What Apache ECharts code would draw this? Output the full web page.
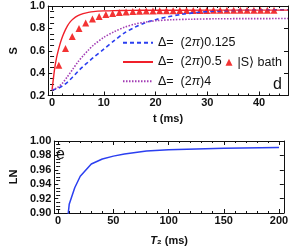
<!DOCTYPE html>
<html><head><meta charset="utf-8">
<script src="https://cdn.jsdelivr.net/npm/echarts@6/dist/echarts.min.js"></script>
<style>html,body{margin:0;padding:0;background:#fff}#c{width:291px;height:250px}</style>
</head><body><div id="c"></div>
<script>
// ---- Top panel (d): S vs t (ms)
const tBlue = [0,1,2,3,4,5,6,7,8,10,12,14,16,18,20,22,25,28,31,35,40,45.6];
const sBlue = [0.25,0.262,0.285,0.32,0.365,0.415,0.46,0.5,0.54,0.615,0.69,0.76,0.81,0.85,0.878,0.9,0.925,0.942,0.953,0.96,0.964,0.966];
const tRed = [0,0.25,0.5,0.75,1,1.5,2,2.5,3,3.5,4,5,6,7,8,10,12,15,20,30,45.6];
const sRed = [0.25,0.35,0.44,0.51,0.565,0.655,0.725,0.78,0.825,0.858,0.882,0.913,0.932,0.943,0.95,0.956,0.959,0.961,0.962,0.963,0.963];
const tPurple = [0,1,2,3,4,5,6,7,8,10,12,14,16,18,20,23,27,32,38,45.6];
const sPurple = [0.25,0.27,0.31,0.37,0.435,0.5,0.555,0.605,0.65,0.72,0.77,0.81,0.838,0.856,0.868,0.877,0.882,0.886,0.887,0.888];
const tBath = [1.3,2.6,3.9,5.2,6.5,7.8,9.1,10.4,11.7,13.0,14.3,15.6,16.9,18.2,19.5,20.8,22.1,23.4,24.7,26.0,27.3,28.6,29.9,31.2,32.5,33.8,35.1,36.4,37.7,39.0,40.3,41.6,42.9];
const sBath = [0.47,0.62,0.727,0.8,0.849,0.884,0.907,0.923,0.934,0.942,0.947,0.951,0.953,0.955,0.956,0.957,0.958,0.958,0.959,0.959,0.96,0.96,0.96,0.961,0.961,0.961,0.961,0.962,0.962,0.962,0.962,0.962,0.962];
const tTicks = [0,10,20,30,40];
const sTicks = [0.2,0.4,0.6,0.8,1.0];
const names = ['Δ=  (2π)0.125','Δ=  (2π)0.5','Δ=  (2π)4','|S⟩ bath'];

// ---- Bottom panel (e): LN vs T2 (ms)
const T2 = [5,10,15,20,30,40,50,60,80,100,150,200];
const LN = [0.84,0.912,0.935,0.951,0.968,0.975,0.979,0.982,0.986,0.988,0.990,0.991];
const T2Ticks = [0,50,100,150,200];
const LNTicks = [0.90,0.92,0.94,0.96,0.98,1.00];

const FONT = "'Liberation Sans', Arial, Helvetica, sans-serif";
const zip = (a,b) => a.map((v,i)=>[v,b[i]]);
function minorVals(min,max,step,major){
  const out=[];
  for(let v=Math.ceil(min/step)*step; v<=max+1e-9; v+=step){
    const r=Math.round(v*10000)/10000;
    if(!major.some(m=>Math.abs(m-r)<1e-6)) out.push(r);
  }
  return out;
}
function frame(dim, grid, min, max, major, minor, fmt, extra){
  const pos = dim==='x' ? ['bottom','top'] : ['left','right'];
  const base = {type:'value', gridIndex:grid, min, max, splitLine:{show:false}};
  const line = {show:true, onZero:false, lineStyle:{color:'#111', width:1}};
  return [
    Object.assign({}, base, {position:pos[0], axisLine:line,
      axisTick:{show:true, inside:true, length:4, customValues:major, lineStyle:{color:'#111'}},
      axisLabel:{show:true, customValues:major, formatter:fmt, color:'#111', fontFamily:FONT, fontWeight:'bold', fontSize:11, margin: dim==='x'?2:3}}, extra||{}),
    Object.assign({}, base, {position:pos[0], axisLine:{show:false},
      axisTick:{show:true, inside:true, length:2, customValues:minor, lineStyle:{color:'#111'}}, axisLabel:{show:false}}),
    Object.assign({}, base, {position:pos[1], axisLine:line,
      axisTick:{show:true, inside:true, length:4, customValues:major, lineStyle:{color:'#111'}}, axisLabel:{show:false}}),
    Object.assign({}, base, {position:pos[1], axisLine:{show:false},
      axisTick:{show:true, inside:true, length:2, customValues:minor, lineStyle:{color:'#111'}}, axisLabel:{show:false}})
  ];
}
const nameStyle = {color:'#111', fontFamily:FONT, fontWeight:'bold', fontSize:11};
const xAxes = [].concat(
  frame('x',0,-0.75,45.6,tTicks,minorVals(-0.75,45.6,2,tTicks),v=>String(v),
    {name:'t (ms)', nameLocation:'middle', nameGap:18, nameTextStyle:nameStyle}),
  frame('x',1,-3.5,204.4,T2Ticks,minorVals(-3.5,204.4,10,T2Ticks),v=>String(v),
    {name:'{i|T}{b|₂ (ms)}', nameLocation:'middle', nameGap:22,
     nameTextStyle:Object.assign({}, nameStyle, {rich:{i:Object.assign({},nameStyle,{fontStyle:'italic'}), b:nameStyle}})})
);
const yAxes = [].concat(
  frame('y',0,0.2,1.0,sTicks,minorVals(0.2,1.0,0.05,sTicks),v=>v.toFixed(1),
    {name:'S', nameLocation:'middle', nameGap:27, nameRotate:90, nameTextStyle:nameStyle}),
  frame('y',1,0.9,1.0,LNTicks,minorVals(0.9,1.0,0.005,LNTicks),v=>v.toFixed(2),
    {name:'LN', nameLocation:'middle', nameGap:31, nameRotate:90, nameTextStyle:nameStyle})
);
const legendRich = {a:{fontFamily:FONT, fontSize:12.5, color:'#111'}, i:{fontFamily:FONT, fontSize:12.5, color:'#111', fontStyle:'italic'}};
const legendFmt = n => n.indexOf('π')>=0 ? '{a|'+n.replace('π','}{i|π}{a|')+'}' : '{a|'+n+'}';

const option = {
  animation:false,
  backgroundColor:'#fff',
  grid:[{left:41,right:3,top:6,bottom:154.5},{left:47,right:6,top:141,bottom:37}],
  xAxis:xAxes, yAxis:yAxes,
  title:[
    {text:'d', left:273, top:77, padding:0, textStyle:{fontFamily:FONT, fontWeight:'normal', fontSize:16, color:'#111'}},
    {text:'e', left:56, top:147, padding:0, textStyle:{fontFamily:FONT, fontWeight:'normal', fontSize:16, color:'#111'}}
  ],
  legend:[
    {data:names.slice(0,3), orient:'vertical', left:122, top:35.7, padding:0, itemWidth:30, itemHeight:10, itemGap:5.3, itemTextGap:6,
     itemStyle:{opacity:0}, formatter:legendFmt, textStyle:{lineHeight:14, rich:legendRich}},
    {data:[names[3]], left:225.5, top:55.3, padding:0, itemWidth:7, itemHeight:7, itemTextGap:5,
     formatter:legendFmt, textStyle:{lineHeight:14, rich:legendRich}}
  ],
  series:[
    {name:names[0], type:'line', xAxisIndex:0, yAxisIndex:0, data:zip(tBlue,sBlue), smooth:0.3, symbol:'none',
     lineStyle:{color:'#2b3ff0', width:1.6, type:[4,3]}, itemStyle:{color:'#2b3ff0'}},
    {name:names[1], type:'line', xAxisIndex:0, yAxisIndex:0, data:zip(tRed,sRed), smooth:0.3, symbol:'none',
     lineStyle:{color:'#f0202a', width:1.4}, itemStyle:{color:'#f0202a'}},
    {name:names[2], type:'line', xAxisIndex:0, yAxisIndex:0, data:zip(tPurple,sPurple), smooth:0.3, symbol:'none',
     lineStyle:{color:'#a23cb4', width:1.6, type:[1.5,1.5]}, itemStyle:{color:'#a23cb4'}},
    {name:names[3], type:'scatter', xAxisIndex:0, yAxisIndex:0, data:zip(tBath,sBath), symbol:'triangle', symbolSize:7,
     itemStyle:{color:'#f00000'}},
    {name:'LN', type:'line', xAxisIndex:4, yAxisIndex:4, data:zip(T2,LN), symbol:'none', clip:true,
     lineStyle:{color:'#2b3ff0', width:1.5}}
  ]
};
const chart = echarts.init(document.getElementById('c'), null, {renderer:'canvas'});
chart.setOption(option);
</script></body></html>
